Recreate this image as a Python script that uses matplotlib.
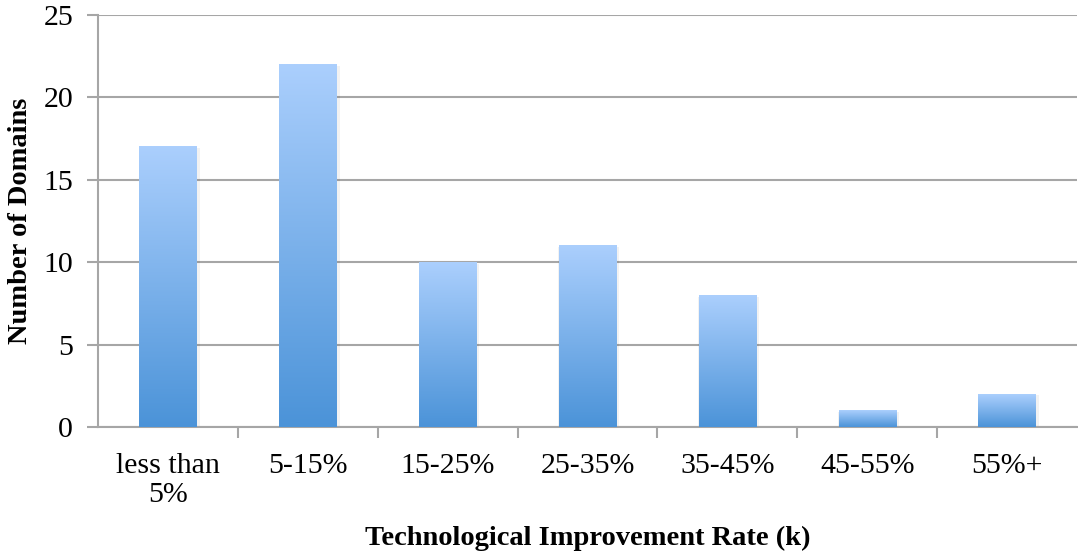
import matplotlib.pyplot as plt
import numpy as np
from matplotlib.colors import LinearSegmentedColormap

# Data
categories = ['less than\n5%', '5-15%', '15-25%', '25-35%', '35-45%', '45-55%', '55%+']
counts = [17, 22, 10, 11, 8, 1, 2]

plt.rcParams['font.family'] = ['Liberation Serif', 'DejaVu Serif']

fig = plt.figure(figsize=(10.78, 5.52), dpi=100)
ax = fig.add_axes([0.091, 0.2264, 0.908, 0.7464])

grid_color = '#a6a6a6'
cmap = LinearSegmentedColormap.from_list('bar', ['#4b93d8', '#abcffd'])
grad = np.linspace(0, 1, 256).reshape(-1, 1)

x = np.arange(len(categories))
width = 0.41
bars = ax.bar(x, counts, width=width, color='none', zorder=3)
for b in bars:
    x0, w, h = b.get_x(), b.get_width(), b.get_height()
    # soft shadow
    ax.bar(x0 + w / 2 + 0.01, h, width=w + 0.025, bottom=-0.08, color='#000000',
           alpha=0.05, zorder=2)
    ax.imshow(grad, cmap=cmap, origin='lower', aspect='auto',
              extent=(x0, x0 + w, 0, h), zorder=3)

ax.set_xlim(-0.5, len(categories) - 0.5)
ax.set_ylim(0, 25)
ax.set_yticks(range(0, 26, 5))
ax.set_xticks(x)
ax.set_xticklabels(categories, fontsize=21.5, linespacing=1.15)
ax.set_xticks(np.arange(0.5, len(categories) - 0.5, 1), minor=True)
ax.tick_params(axis='x', which='major', length=0, pad=19)
ax.tick_params(axis='x', which='minor', length=8, width=1.5, color=grid_color)
ax.tick_params(axis='y', length=8, width=1.5, color=grid_color, labelsize=21.5, pad=10)

ax.grid(axis='y', color=grid_color, linewidth=1.5, zorder=0)
ax.set_axisbelow(True)
for s in ['top', 'right']:
    ax.spines[s].set_visible(False)
for s in ['left', 'bottom']:
    ax.spines[s].set_color(grid_color)
    ax.spines[s].set_linewidth(1.5)

ax.set_xlabel('Technological Improvement Rate (k)', fontsize=20.5, fontweight='bold')
ax.xaxis.set_label_coords(0.5, -0.24)
ax.set_ylabel('Number of Domains', fontsize=20.5, fontweight='bold')
ax.yaxis.set_label_coords(-0.067, 0.5)

fig.savefig('out.png', dpi=100)
